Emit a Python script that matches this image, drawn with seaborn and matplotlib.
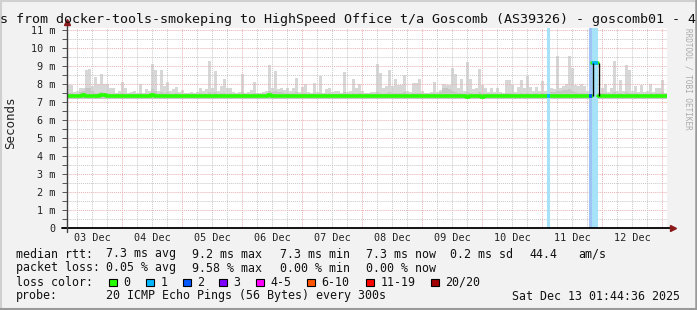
import numpy as np
import pandas as pd
import matplotlib
matplotlib.use("Agg")
import matplotlib.pyplot as plt
from matplotlib.patches import Rectangle
from matplotlib.lines import Line2D
import seaborn as sns

# ---------------- data ----------------
title_text = "s from docker-tools-smokeping to HighSpeed Office t/a Goscomb (AS39326) - goscomb01 - 4"
day_labels = ["03 Dec", "04 Dec", "05 Dec", "06 Dec", "07 Dec",
              "08 Dec", "09 Dec", "10 Dec", "11 Dec", "12 Dec"]
y_tick_labels = ["0", "1 m", "2 m", "3 m", "4 m", "5 m", "6 m", "7 m", "8 m", "9 m", "10 m", "11 m"]

start_hour = 2.0      # hours after 03 Dec 00:00 where the graph begins
bin_hours = 1.2       # consolidated step (72 min)

# highest ping of each step (ms)
smoke_max = [
    7.95, 7.95, 7.55, 7.60, 7.78, 7.80, 8.80, 8.85, 7.90, 8.40,
    8.00, 8.55, 8.00, 8.00, 7.78, 7.80, 7.50, 7.60, 8.10, 7.75,
    7.50, 7.55, 7.60, 7.50, 8.00, 7.50, 7.70, 7.60, 9.12, 8.75,
    7.60, 8.75, 7.90, 8.10, 7.60, 7.70, 7.85, 7.55, 7.65, 7.50,
    7.50, 7.55, 7.50, 7.55, 7.80, 7.60, 7.70, 9.25, 7.80, 8.70,
    7.60, 7.90, 8.30, 7.75, 7.80, 7.55, 7.50, 7.55, 8.58, 7.50,
    7.55, 7.65, 8.10, 7.50, 7.50, 7.55, 7.60, 9.05, 7.75, 8.70,
    7.70, 7.80, 7.65, 7.75, 7.60, 7.80, 8.35, 7.55, 7.85, 8.00,
    7.55, 7.50, 8.05, 7.55, 8.45, 7.50, 7.70, 7.80, 7.55, 7.60,
    7.60, 7.50, 8.65, 7.55, 7.60, 8.30, 7.75, 8.00, 7.60, 7.50,
    7.50, 7.55, 7.55, 9.10, 8.60, 7.75, 7.90, 8.80, 7.90, 8.25,
    7.95, 7.95, 8.50, 7.60, 7.55, 8.05, 8.05, 8.30, 7.60, 7.50,
    7.50, 7.55, 8.10, 7.55, 7.65, 8.00, 7.95, 7.95, 8.90, 8.55,
    7.75, 8.25, 7.60, 9.20, 8.30, 7.70, 7.75, 8.85, 7.95, 7.80,
    7.55, 7.75, 7.55, 7.75, 7.55, 7.50, 8.20, 8.20, 7.95, 7.55,
    7.85, 8.20, 7.75, 8.45, 7.85, 7.60, 7.85, 7.60, 8.15, 7.60,
    7.50, 7.75, 7.70, 9.55, 7.80, 7.90, 8.00, 9.55, 8.90, 7.95,
    7.90, 8.00, 7.90, 7.60, 7.50, 7.50, 7.50, 7.50, 7.75, 8.00,
    7.55, 7.75, 9.30, 7.60, 8.20, 7.60, 9.05, 8.75, 7.60, 7.90,
    7.55, 7.95, 7.55, 7.60, 8.00, 7.55, 7.75, 7.80, 8.20, 7.50,
]

# upper edge of the denser (darker) smoke (ms)
smoke_mid = [
    7.50, 7.50, 7.47, 7.47, 7.55, 7.60, 7.75, 7.78, 7.60, 7.50,
    7.50, 7.55, 7.50, 7.50, 7.47, 7.47, 7.47, 7.47, 7.50, 7.47,
    7.47, 7.47, 7.47, 7.47, 7.50, 7.47, 7.47, 7.47, 7.70, 7.60,
    7.47, 7.55, 7.50, 7.55, 7.47, 7.47, 7.50, 7.47, 7.47, 7.47,
    7.47, 7.47, 7.47, 7.47, 7.50, 7.47, 7.47, 7.55, 7.50, 7.55,
    7.47, 7.50, 7.50, 7.47, 7.50, 7.47, 7.47, 7.47, 7.55, 7.47,
    7.47, 7.47, 7.50, 7.47, 7.47, 7.47, 7.47, 7.60, 7.55, 7.60,
    7.55, 7.55, 7.50, 7.50, 7.47, 7.50, 7.55, 7.47, 7.50, 7.50,
    7.47, 7.47, 7.50, 7.47, 7.50, 7.47, 7.47, 7.50, 7.47, 7.47,
    7.47, 7.47, 7.55, 7.47, 7.47, 7.50, 7.47, 7.50, 7.47, 7.47,
    7.47, 7.47, 7.47, 7.55, 7.50, 7.47, 7.50, 7.55, 7.50, 7.50,
    7.50, 7.50, 7.55, 7.47, 7.47, 7.50, 7.50, 7.50, 7.47, 7.47,
    7.47, 7.47, 7.50, 7.47, 7.55, 7.75, 7.80, 7.70, 7.60, 7.55,
    7.50, 7.50, 7.47, 7.55, 7.50, 7.47, 7.47, 7.55, 7.50, 7.47,
    7.47, 7.47, 7.47, 7.47, 7.47, 7.47, 7.50, 7.50, 7.50, 7.47,
    7.47, 7.50, 7.47, 7.50, 7.47, 7.47, 7.50, 7.47, 7.50, 7.47,
    7.47, 7.55, 7.55, 7.60, 7.60, 7.65, 7.65, 7.70, 7.60, 7.55,
    7.50, 7.50, 7.50, 7.47, 7.47, 7.47, 7.47, 7.47, 7.50, 7.50,
    7.47, 7.47, 7.55, 7.47, 7.50, 7.47, 7.55, 7.50, 7.47, 7.50,
    7.47, 7.47, 7.47, 7.47, 7.50, 7.47, 7.50, 7.50, 7.55, 7.47,
]

# median rtt of each step (ms)
median_rtt = [
    7.36, 7.36, 7.35, 7.35, 7.36, 7.37, 7.36, 7.36, 7.35, 7.36,
    7.36, 7.38, 7.37, 7.36, 7.35, 7.35, 7.35, 7.36, 7.36, 7.36,
    7.35, 7.35, 7.35, 7.36, 7.36, 7.35, 7.35, 7.35, 7.37, 7.36,
    7.35, 7.36, 7.35, 7.35, 7.35, 7.35, 7.36, 7.35, 7.35, 7.34,
    7.34, 7.35, 7.35, 7.35, 7.36, 7.35, 7.35, 7.36, 7.35, 7.35,
    7.35, 7.35, 7.36, 7.35, 7.34, 7.34, 7.34, 7.35, 7.36, 7.35,
    7.35, 7.35, 7.36, 7.35, 7.35, 7.35, 7.35, 7.37, 7.36, 7.36,
    7.36, 7.35, 7.35, 7.35, 7.35, 7.35, 7.36, 7.35, 7.35, 7.35,
    7.34, 7.34, 7.35, 7.35, 7.36, 7.35, 7.35, 7.35, 7.34, 7.34,
    7.34, 7.35, 7.36, 7.35, 7.35, 7.36, 7.35, 7.35, 7.34, 7.34,
    7.35, 7.35, 7.35, 7.36, 7.35, 7.34, 7.34, 7.35, 7.35, 7.34,
    7.34, 7.35, 7.35, 7.34, 7.34, 7.33, 7.34, 7.34, 7.34, 7.33,
    7.33, 7.34, 7.34, 7.33, 7.34, 7.35, 7.35, 7.34, 7.32, 7.31,
    7.31, 7.32, 7.31, 7.30, 7.31, 7.31, 7.32, 7.31, 7.30, 7.31,
    7.32, 7.31, 7.31, 7.32, 7.31, 7.31, 7.32, 7.32, 7.31, 7.31,
    7.32, 7.32, 7.31, 7.32, 7.33, 7.32, 7.33, 7.33, 7.32, 7.33,
    7.34, 7.34, 7.33, 7.34, 7.34, 7.35, 7.34, 7.34, 7.34, 7.34,
    7.33, 7.34, 7.34, 7.34, 7.35, 9.15, 9.15, 7.33, 7.34, 7.34,
    7.35, 7.34, 7.34, 7.35, 7.34, 7.34, 7.34, 7.35, 7.34, 7.34,
    7.35, 7.34, 7.34, 7.34, 7.35, 7.34, 7.34, 7.34, 7.35, 7.34,
]

# lost pings (out of 20) of each step
loss = [0] * 200
loss[160] = 1
loss[174] = 2
loss[175] = 1
loss[176] = 1

rtt_stats = ["7.3 ms avg", "9.2 ms max", "7.3 ms min", "7.3 ms now", "0.2 ms sd", "44.4", "am/s"]
loss_stats = ["0.05 % avg", "9.58 % max", "0.00 % min", "0.00 % now"]
loss_labels = ["0", "1", "2", "3", "4-5", "6-10", "11-19", "20/20"]
loss_colors = ["#26ff00", "#00b8ff", "#0059ff", "#7e00ff", "#ff00ff", "#ff5500", "#ff0000", "#a10000"]
loss_band_colors = {1: "#a6e3f8", 2: "#9fc3f4"}
probe_text = "20 ICMP Echo Pings (56 Bytes) every 300s"
stamp_text = "Sat Dec 13 01:44:36 2025"

# ---------------- style ----------------
sns.set_style("white")
plt.rcParams["font.family"] = ["DejaVu Sans Mono"]
MONO = "DejaVu Sans Mono"

W, H = 697, 310
BG = "#f2f2f2"

def fx(px):
    return px / W

def fy(py):
    return 1 - py / H

fig = plt.figure(figsize=(W / 100, H / 100), dpi=100, facecolor=BG)

ax = fig.add_axes([fx(67), fy(228), 600 / W, 200 / H])
ax.set_facecolor("white")
x0, x1 = start_hour, start_hour + 200 * bin_hours
ax.set_xlim(x0, x1)
ax.set_ylim(0, 200 / 18)

n = len(smoke_max)
t_start = start_hour + bin_hours * np.arange(n)
t_end = t_start + bin_hours
smax = np.array(smoke_max)
smid = np.array(smoke_mid)
med = np.array(median_rtt)
loss_arr = np.array(loss)

# smoke
base = 7.15
ax.bar(t_start, smax - base, bottom=base, width=bin_hours, align="edge",
       color="#d7d7d7", linewidth=0, zorder=1)
ax.bar(t_start, smid - base, bottom=base, width=bin_hours, align="edge",
       color="#c6c6c6", linewidth=0, zorder=1.1)

# grid
grey = "#c8c8c8"
red = "#eab0b0"
dot = (0, (1, 1))
for v in np.arange(0.5, 11.01, 0.5):
    major = abs(v - round(v)) < 1e-6
    ax.axhline(v, color=red if major else grey, lw=0.7, ls=dot, zorder=2)
for h in np.arange(6, x1, 6):
    if h <= x0:
        continue
    major = (h % 24) == 0
    ax.axvline(h, color=red if major else grey, lw=0.7, ls=dot, zorder=2)

# loss background bands
for i in range(n):
    if loss_arr[i] > 0:
        ax.axvspan(t_start[i], t_end[i], color=loss_band_colors[int(loss_arr[i])],
                   lw=0, zorder=3)

# median line (segments split where the value jumps)
seg = np.concatenate([[0], np.cumsum(np.abs(np.diff(med)) > 1.0)])
rows = []
for i in range(n):
    rows.append((t_start[i], med[i], seg[i]))
    rows.append((t_end[i], med[i], seg[i]))
df = pd.DataFrame(rows, columns=["t", "ms", "seg"])
sns.lineplot(data=df, x="t", y="ms", units="seg", estimator=None, sort=False,
             color=loss_colors[0], lw=2.6, ax=ax, zorder=4, legend=False)
for i in range(n):
    if loss_arr[i] > 0:
        ax.hlines(med[i], t_start[i], t_end[i], colors=loss_colors[int(loss_arr[i])],
                  lw=2.6, zorder=4.5)
# black connectors at jumps
for i in range(n - 1):
    if abs(med[i + 1] - med[i]) > 1.0:
        ax.vlines(t_end[i] + 0.3, min(med[i], med[i + 1]), max(med[i], med[i + 1]),
                  colors="black", lw=1.0, zorder=5)

# ticks
ax.set_yticks(range(12))
ax.set_yticklabels(y_tick_labels)
ax.set_yticks(np.arange(0.5, 11.01, 1.0), minor=True)
ax.set_xticks([12 + 24 * k for k in range(len(day_labels))])
ax.set_xticklabels(day_labels)
ax.tick_params(axis="y", which="both", direction="out", length=3.5, width=0.7,
               color="#555555", pad=5.0, labelsize=7.3, labelcolor="#222222", left=True)
ax.tick_params(axis="x", which="both", length=0, pad=3.5, labelsize=7.3,
               labelcolor="#222222")
for lab in ax.get_xticklabels() + ax.get_yticklabels():
    lab.set_fontfamily(MONO)
for s in ax.spines.values():
    s.set_visible(False)
ax.set_xlabel("")
ax.set_ylabel("")

# axis lines with arrow heads
ax.plot([-5 / 600, 1.0 + 4 / 600], [0, 0], transform=ax.transAxes, color="black",
        lw=1.3, clip_on=False, zorder=6)
ax.plot([0, 0], [-4 / 200, 1.0 + 4 / 200], transform=ax.transAxes, color="#404040",
        lw=1.0, clip_on=False, zorder=6)
ax.plot([1.0 + 6 / 600], [0], marker=">", ms=4.5, color="#8b1a1a", mec="#8b1a1a",
        transform=ax.transAxes, clip_on=False, zorder=7)
ax.plot([0], [1.0 + 6 / 200], marker="^", ms=4.5, color="#8b1a1a", mec="#8b1a1a",
        transform=ax.transAxes, clip_on=False, zorder=7)

# title, unit label, watermark
fig.text(fx(0.5), fy(19), title_text, ha="left", va="center", fontsize=9.6,
         family=MONO, color="#111111")
fig.text(fx(11), fy(123), "Seconds", rotation=90, ha="center", va="center",
         fontsize=9.0, family=MONO, color="#222222")
fig.text(fx(688), fy(28), "RRDTOOL / TOBI OETIKER", rotation=-90, ha="center",
         va="top", fontsize=5.5, family=MONO, color="#aaaaaa")

# legend
LS = 8.35
def ltext(x, y, s):
    fig.text(fx(x - 0.5), fy(y), s, ha="left", va="center", fontsize=LS,
             family=MONO, color="#111111")

ltext(16, 254, "median rtt:")
for xp, s in zip([107, 193, 281, 366, 451, 530, 579], rtt_stats):
    ltext(xp, 254, s)
ltext(16, 268, "packet loss:")
for xp, s in zip([107, 193, 281, 366], loss_stats):
    ltext(xp, 268, s)
ltext(16, 282, "loss color:")
box_x = [109, 146, 183, 219, 256, 307, 366, 431]
for bx, lab, col in zip(box_x, loss_labels, loss_colors):
    fig.patches.append(Rectangle((fx(bx), fy(286)), 7.5 / W, 7.5 / H, transform=fig.transFigure,
                                 facecolor=col, edgecolor="black", lw=0.8))
    ltext(bx + 15, 282, lab)
ltext(16, 296, "probe:")
ltext(107, 296, probe_text)
ltext(513, 296, stamp_text)

# outer frame
fig.add_artist(Line2D([0, 1], [fy(1), fy(1)], transform=fig.transFigure, color="#d0d0d0", lw=1.5))
fig.add_artist(Line2D([fx(1), fx(1)], [0, 1], transform=fig.transFigure, color="#d0d0d0", lw=1.5))
fig.add_artist(Line2D([0, 1], [fy(308.5), fy(308.5)], transform=fig.transFigure, color="#9a9a9a", lw=2.2))
fig.add_artist(Line2D([fx(695.8), fx(695.8)], [0, 1], transform=fig.transFigure, color="#9a9a9a", lw=1.8))

fig.savefig("out.png", dpi=100, facecolor=BG)
